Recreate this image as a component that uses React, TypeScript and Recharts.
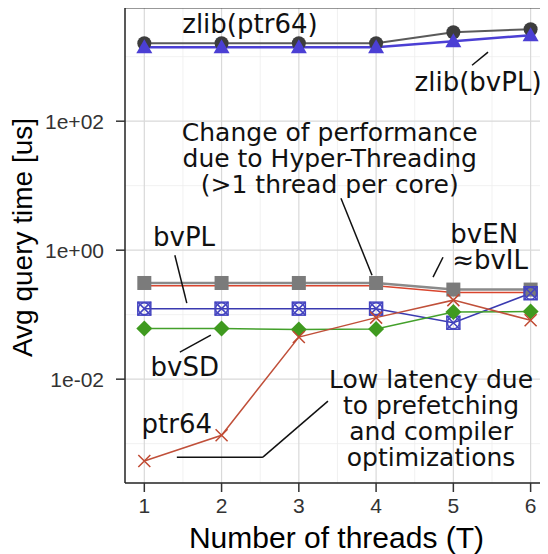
import { CartesianGrid, Label, Line, LineChart, ReferenceDot, ReferenceLine, XAxis, YAxis } from "recharts";

const threads = [1, 2, 3, 4, 5, 6];
const zlibPtr64 = [1620, 1620, 1620, 1620, 2400, 2670];
const zlibBvPL = [1400, 1400, 1400, 1400, 1740, 2150];
const bvEN = [0.31, 0.31, 0.31, 0.31, 0.245, 0.245];
const bvIL = [0.28, 0.28, 0.28, 0.28, 0.22, 0.22];
const bvPL = [0.124, 0.124, 0.124, 0.124, 0.075, 0.215];
const bvSD = [0.061, 0.061, 0.059, 0.06, 0.11, 0.112];
const ptr64 = [0.00054, 0.00135, 0.045, 0.09, 0.168, 0.082];

const xTicks = [1, 2, 3, 4, 5, 6];
const xMinor = [1.5, 2.5, 3.5, 4.5, 5.5];
const yTicks = [0.01, 1, 100];
const yMinor = [0.001, 0.1, 10, 1000];

// annotation text, anchored in data units (centre of first line)
const notes = [
  { lines: ["zlib(ptr64)"], x: 2.367, y: 3190 },
  { lines: ["zlib(bvPL)"], x: 5.32, y: 403 },
  { lines: ["Change of performance", "due to Hyper-Threading", "(>1 thread per core)"], x: 3.4, y: 67.5 },
  { lines: ["bvEN"], x: 5.4, y: 1.77 },
  { lines: ["≈bvIL"], x: 5.475, y: 0.7 },
  { lines: ["bvPL"], x: 1.514, y: 1.59 },
  { lines: ["bvSD"], x: 1.524, y: 0.01535 },
  { lines: ["Low latency due", "to prefetching", "and compiler", "optimizations"], x: 4.711, y: 0.01 },
  { lines: ["ptr64"], x: 1.421, y: 0.002 },
];

const leaders = [
  [{ x: 5.242, y: 738 }, { x: 5.449, y: 1175 }],
  [{ x: 3.545, y: 6.4 }, { x: 3.947, y: 0.409 }],
  [{ x: 4.737, y: 0.381 }, { x: 4.866, y: 0.778 }],
  [{ x: 1.395, y: 0.836 }, { x: 1.55, y: 0.151 }],
  [{ x: 1.46, y: 0.0262 }, { x: 1.861, y: 0.0481 }],
  [{ x: 1.421, y: 0.000618 }, { x: 2.535, y: 0.000618 }],
  [{ x: 2.535, y: 0.000618 }, { x: 3.377, y: 0.00456 }],
];

const data = threads.map((t, i) => ({
  t,
  zlibPtr64: zlibPtr64[i],
  zlibBvPL: zlibBvPL[i],
  bvEN: bvEN[i],
  bvIL: bvIL[i],
  bvPL: bvPL[i],
  bvSD: bvSD[i],
  ptr64: ptr64[i],
}));

const AXIS_FONT = "'Liberation Sans', Arial, sans-serif";
const NOTE_FONT = "'DejaVu Sans', sans-serif";

const fmtExp = (v: number) => {
  const e = Math.round(Math.log10(v));
  const sign = e < 0 ? "-" : "+";
  return `1e${sign}${String(Math.abs(e)).padStart(2, "0")}`;
};

const circleDot = (p: any) => (
  <circle key={p.index} cx={p.cx} cy={p.cy} r={7} fill="#3d3d3d" />
);
const triDot = (p: any) => (
  <polygon
    key={p.index}
    points={`${p.cx},${p.cy - 8} ${p.cx - 8},${p.cy + 6} ${p.cx + 8},${p.cy + 6}`}
    fill="#4b3fd4"
  />
);
const squareDot = (p: any) => (
  <rect key={p.index} x={p.cx - 7} y={p.cy - 7} width={14} height={14} fill="#7b7b7b" />
);
const boxDot = (p: any) => (
  <g key={p.index} stroke="#4444c0" strokeWidth={1.5} fill="none">
    <rect x={p.cx - 6.5} y={p.cy - 6.5} width={13} height={13} />
    <circle cx={p.cx} cy={p.cy} r={6} />
    <path d={`M${p.cx - 6.5},${p.cy - 6.5}L${p.cx + 6.5},${p.cy + 6.5}M${p.cx + 6.5},${p.cy - 6.5}L${p.cx - 6.5},${p.cy + 6.5}`} />
  </g>
);
const diamondDot = (p: any) => (
  <polygon
    key={p.index}
    points={`${p.cx},${p.cy - 8} ${p.cx + 8},${p.cy} ${p.cx},${p.cy + 8} ${p.cx - 8},${p.cy}`}
    fill="#3f9a1f"
  />
);
const crossDot = (p: any) => (
  <path
    key={p.index}
    d={`M${p.cx - 6},${p.cy - 6}L${p.cx + 6},${p.cy + 6}M${p.cx + 6},${p.cy - 6}L${p.cx - 6},${p.cy + 6}`}
    stroke="#c04a32"
    strokeWidth={1.5}
  />
);

const noteShape = (lines: string[]) => (p: any) => (
  <g>
    {lines.map((s, i) => (
      <text
        key={i}
        x={p.cx}
        y={p.cy + i * 26}
        textAnchor="middle"
        dominantBaseline="central"
        fontFamily={NOTE_FONT}
        fontSize={lines.length > 1 ? 25 : 26}
        fill="#111"
      >
        {s}
      </text>
    ))}
  </g>
);

export default function App() {
  return (
    <LineChart width={540} height={546} data={data} margin={{ top: 0, right: 0, bottom: 0, left: 0 }}>
      <CartesianGrid verticalValues={xMinor} horizontalValues={yMinor} stroke="#ededed" strokeWidth={0.8} />
      <CartesianGrid verticalValues={xTicks} horizontalValues={yTicks} stroke="#d9d9d9" strokeWidth={1.2} />
      <XAxis
        dataKey="t"
        type="number"
        domain={[0.75, 6.225]}
        ticks={xTicks}
        allowDataOverflow
        height={71}
        tickSize={9}
        tickMargin={6}
        axisLine={{ stroke: "#222", strokeWidth: 1.5 }}
        tickLine={{ stroke: "#333", strokeWidth: 1.5 }}
        tick={{ fill: "#333", fontSize: 21, fontFamily: AXIS_FONT }}
      >
        <Label
          content={(p: any) => (
            <text
              x={p.viewBox.x + p.viewBox.width / 2}
              y={p.viewBox.y + 65}
              textAnchor="middle"
              fontFamily={AXIS_FONT}
              fontSize={30}
              fill="#000"
            >
              Number of threads (T)
            </text>
          )}
        />
      </XAxis>
      <YAxis
        type="number"
        scale="log"
        domain={[2.455e-4, 5690]}
        ticks={yTicks}
        allowDataOverflow
        width={117}
        tickSize={9}
        tickMargin={12}
        tickFormatter={fmtExp}
        axisLine={{ stroke: "#222", strokeWidth: 1.5 }}
        tickLine={{ stroke: "#333", strokeWidth: 1.5 }}
        tick={{ fill: "#333", fontSize: 21, fontFamily: AXIS_FONT }}
      >
        <Label
          content={(p: any) => {
            const cy = p.viewBox.y + p.viewBox.height / 2 - 8;
            return (
              <text
                x={24}
                y={cy}
                transform={`rotate(-90, 24, ${cy})`}
                textAnchor="middle"
                fontFamily={AXIS_FONT}
                fontSize={28}
                fill="#000"
              >
                Avg query time [us]
              </text>
            );
          }}
        />
      </YAxis>
      <ReferenceLine y={5690} stroke="#333" strokeWidth={1.2} />

      <Line dataKey="zlibPtr64" stroke="#5a5a5a" strokeWidth={2} dot={circleDot} activeDot={false} isAnimationActive={false} />
      <Line dataKey="zlibBvPL" stroke="#4b3fd4" strokeWidth={2.5} dot={triDot} activeDot={false} isAnimationActive={false} />
      <Line dataKey="bvIL" stroke="#d9452e" strokeWidth={1.5} dot={false} activeDot={false} isAnimationActive={false} />
      <Line dataKey="bvEN" stroke="#8a8a8a" strokeWidth={2.5} dot={squareDot} activeDot={false} isAnimationActive={false} />
      <Line dataKey="bvPL" stroke="#3a3ab0" strokeWidth={1.5} dot={boxDot} activeDot={false} isAnimationActive={false} />
      <Line dataKey="bvSD" stroke="#43a02b" strokeWidth={1.5} dot={diamondDot} activeDot={false} isAnimationActive={false} />
      <Line dataKey="ptr64" stroke="#c0503a" strokeWidth={1.5} dot={crossDot} activeDot={false} isAnimationActive={false} />

      {leaders.map((seg, i) => (
        <ReferenceLine key={`l${i}`} segment={seg} stroke="#111" strokeWidth={1.5} />
      ))}
      {notes.map((n, i) => (
        <ReferenceDot key={`n${i}`} x={n.x} y={n.y} r={0} shape={noteShape(n.lines)} />
      ))}
    </LineChart>
  );
}
